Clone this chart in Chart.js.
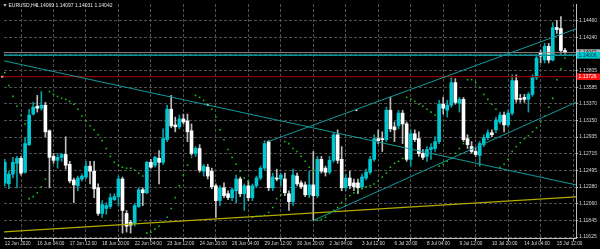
<!DOCTYPE html>
<html><head><meta charset="utf-8">
<script src="https://cdn.jsdelivr.net/npm/chart.js@4/dist/chart.umd.min.js"></script>
<style>html,body{margin:0;padding:0;background:#000;overflow:hidden}canvas{display:block}</style>
</head><body>
<canvas id="c" width="600" height="249"></canvas>
<script>
// ---- data (EURUSD, H4) ----
const timeLabels = ["12 Jun 2020","16 Jun 04:00","17 Jun 12:00","18 Jun 20:00","22 Jun 04:00","23 Jun 12:00","24 Jun 20:00","26 Jun 04:00","29 Jun 12:00","30 Jun 20:00","2 Jul 04:00","3 Jul 12:00","6 Jul 20:00","8 Jul 04:00","9 Jul 12:00","10 Jul 20:00","14 Jul 04:00","15 Jul 12:00"];
const priceTicks = [1.14460,1.14240,1.14020,1.13805,1.13585,1.13370,1.13150,1.12935,1.12715,1.12495,1.12280,1.12060,1.11845,1.11625];

const open = [1.12334,1.12321,1.12449,1.12591,1.12656,1.12475,1.12836,1.13236,1.13339,1.13313,
1.13352,1.13017,1.12682,1.12630,1.12669,1.12707,1.12578,1.12373,1.12296,1.12385,
1.12411,1.12553,1.12488,1.12270,1.11934,1.11999,1.12025,1.12115,1.12154,1.12385,
1.11934,1.11818,1.11805,1.12025,1.12244,1.12205,1.12604,1.12566,1.12656,1.12604,
1.12901,1.13300,1.13094,1.13069,1.13172,1.13146,1.13017,1.12720,1.12785,1.12488,
1.12540,1.12488,1.12296,1.12102,1.12270,1.12192,1.12141,1.12231,1.12385,1.12192,
1.12296,1.12141,1.12296,1.12398,1.12527,1.12875,1.12270,1.12398,1.12385,1.12385,
1.12192,1.12089,1.12424,1.12334,1.12308,1.12179,1.12308,1.12167,1.12643,1.12527,
1.12475,1.12630,1.12965,1.12643,1.12270,1.12398,1.12334,1.12334,1.12283,1.12398,
1.12475,1.12643,1.12914,1.12914,1.12901,1.13287,1.13069,1.13082,1.13249,1.13107,
1.12643,1.12978,1.12914,1.12720,1.12682,1.12772,1.12785,1.12875,1.13365,1.13287,
1.13352,1.13648,1.13377,1.13429,1.12914,1.12810,1.12746,1.12695,1.12836,1.12926,
1.12991,1.13030,1.13133,1.13223,1.13094,1.13249,1.13674,1.13442,1.13455,1.13429,
1.13494,1.13713,1.14035,1.13945,1.14125,1.13945,1.14370,1.14357,1.14069];
const high = [1.12643,1.12488,1.12669,1.12682,1.12682,1.12926,1.13300,1.13390,1.13481,1.13532,
1.13390,1.13030,1.12720,1.12720,1.12720,1.12939,1.12617,1.12398,1.12424,1.12449,
1.12617,1.12617,1.12617,1.12321,1.12102,1.12076,1.12192,1.12192,1.12424,1.12411,
1.11973,1.11844,1.12063,1.12270,1.12270,1.12617,1.12643,1.12682,1.12759,1.13043,
1.13352,1.13481,1.13197,1.13223,1.13236,1.13236,1.13107,1.12810,1.12836,1.12578,
1.12578,1.12527,1.12321,1.12296,1.12334,1.12231,1.12270,1.12437,1.12411,1.12321,
1.12360,1.12321,1.12424,1.12553,1.12888,1.12888,1.12462,1.12514,1.12462,1.12462,
1.12231,1.12514,1.12462,1.12360,1.12347,1.12488,1.12746,1.12682,1.12682,1.12553,
1.12682,1.12991,1.13030,1.12810,1.12449,1.12488,1.12385,1.12385,1.12449,1.12514,
1.12682,1.12965,1.13030,1.13004,1.13326,1.13455,1.13133,1.13287,1.13287,1.13133,
1.13030,1.13030,1.13004,1.12772,1.12810,1.12849,1.12939,1.13416,1.13455,1.13416,
1.13713,1.13700,1.13455,1.13455,1.12965,1.12875,1.12785,1.12875,1.12965,1.13030,
1.13030,1.13197,1.13262,1.13262,1.13287,1.13751,1.13751,1.13494,1.13494,1.13519,
1.13751,1.14009,1.14073,1.14164,1.14164,1.14434,1.14464,1.14515,1.14097];
const low = [1.12296,1.12257,1.12398,1.12270,1.12437,1.12462,1.12823,1.13223,1.13262,1.13287,
1.12939,1.12270,1.12591,1.12527,1.12617,1.12514,1.12334,1.12076,1.12231,1.12360,
1.12385,1.12321,1.12141,1.11909,1.11883,1.11922,1.11999,1.12102,1.12037,1.11676,
1.11689,1.11676,1.11767,1.12012,1.12037,1.12192,1.12527,1.12540,1.12321,1.12578,
1.12875,1.13056,1.13004,1.13043,1.13107,1.12875,1.12695,1.12682,1.12475,1.12424,
1.12385,1.12257,1.11883,1.12037,1.12141,1.12115,1.12102,1.12076,1.12154,1.11973,
1.12102,1.12102,1.12270,1.12373,1.12501,1.12231,1.12231,1.12360,1.12296,1.12167,
1.11973,1.12037,1.12296,1.12257,1.12154,1.12141,1.11844,1.12141,1.12462,1.12424,
1.12449,1.12604,1.12591,1.12231,1.12231,1.12257,1.12231,1.12192,1.12257,1.12373,
1.12449,1.12617,1.12849,1.12746,1.12875,1.13004,1.12875,1.13043,1.12849,1.12617,
1.12553,1.12875,1.12682,1.12643,1.12617,1.12643,1.12746,1.12849,1.13236,1.13197,
1.13326,1.13365,1.13262,1.12875,1.12785,1.12720,1.12682,1.12553,1.12810,1.12901,
1.12939,1.12991,1.13107,1.13004,1.13069,1.13223,1.13390,1.13390,1.13390,1.13262,
1.13468,1.13687,1.13906,1.13906,1.13906,1.13932,1.14292,1.14035,1.14031];
const close = [1.12604,1.12449,1.12604,1.12656,1.12462,1.12849,1.13223,1.13326,1.13313,1.13352,
1.13004,1.12669,1.12630,1.12669,1.12707,1.12566,1.12360,1.12308,1.12398,1.12424,
1.12553,1.12488,1.12257,1.11934,1.12050,1.12037,1.12141,1.12154,1.12385,1.11973,
1.11767,1.11780,1.12037,1.12244,1.12205,1.12604,1.12540,1.12669,1.12604,1.12914,
1.13300,1.13082,1.13069,1.13172,1.13133,1.13004,1.12720,1.12785,1.12501,1.12553,
1.12424,1.12283,1.12102,1.12270,1.12167,1.12141,1.12244,1.12385,1.12192,1.12296,
1.12141,1.12296,1.12398,1.12527,1.12849,1.12270,1.12411,1.12385,1.12437,1.12205,
1.12089,1.12437,1.12321,1.12283,1.12179,1.12308,1.12167,1.12643,1.12488,1.12475,
1.12630,1.12965,1.12630,1.12270,1.12398,1.12296,1.12283,1.12270,1.12411,1.12475,
1.12643,1.12914,1.12888,1.12901,1.13287,1.13043,1.13030,1.13249,1.13107,1.12643,
1.12978,1.12901,1.12720,1.12669,1.12772,1.12798,1.12875,1.13365,1.13313,1.13352,
1.13648,1.13390,1.13429,1.12901,1.12836,1.12746,1.12707,1.12849,1.12926,1.12991,
1.12965,1.13159,1.13223,1.13094,1.13249,1.13674,1.13429,1.13429,1.13429,1.13494,
1.13713,1.13970,1.13996,1.14125,1.13945,1.14370,1.14344,1.14069,1.14042];
// Parabolic SAR, one value per bar
const sar = [1.13777,1.13610,1.13468,1.13339,1.13223,1.13107,1.12128,1.12154,1.12205,1.12283,
1.12385,1.13532,1.13494,1.13468,1.13442,1.13429,1.13403,1.13365,1.13300,1.13210,
1.13146,1.13082,1.13030,1.12965,1.12888,1.12785,1.12682,1.12604,1.12566,1.12540,
1.12527,1.12527,1.12501,1.12462,1.12424,1.11676,1.11689,1.11728,1.11767,1.11818,
1.11883,1.11999,1.12141,1.12296,1.12437,1.12566,1.12669,1.13481,1.13455,1.13416,
1.13365,1.13300,1.13197,1.13030,1.12901,1.12772,1.12669,1.12578,1.12488,1.12398,
1.12360,1.11883,1.11896,1.11896,1.11909,1.11947,1.12012,1.12128,1.12179,1.12875,
1.12849,1.12785,1.12746,1.12682,1.12617,1.12540,1.12488,1.11844,1.11857,1.11883,
1.11934,1.11973,1.12012,1.12076,1.12128,1.12167,1.12205,1.12244,1.12257,1.12283,
1.12296,1.12321,1.12360,1.12411,1.12462,1.12540,1.12591,1.12617,1.12656,1.13455,
1.13429,1.13403,1.13365,1.13339,1.13300,1.13262,1.13223,1.12553,1.12578,1.12617,
1.12656,1.12720,1.12785,1.12849,1.13687,1.13687,1.13648,1.13584,1.13494,1.13429,
1.13365,1.13300,1.12540,1.12578,1.12643,1.12746,1.12810,1.12862,1.12914,1.12952,
1.13004,1.13056,1.13133,1.13210,1.13326,1.13442,1.13687,1.13829,1.13970];
// drawn objects: [bar index, price]
const trendDown   = [[-0.2, 1.13934], [140.72, 1.12308]];
const channelHigh = [[64.9, 1.12875], [140.72, 1.14353]];
const channelLow  = [[76.1, 1.11844], [140.72, 1.13390]];
const supportLine = [[-0.2, 1.11693], [140.72, 1.12151]];
const anchorPoints = [[50, 1.13356], [86.65, 1.13287], [108.1, 1.13722]];
const bidLevel = 1.14042;
const tealLevel = 1.14006;
const redLevel = 1.13726;
const symbolTitle = "EURUSD,H4";

// ---- chart ----
const N = open.length;
const idx = open.map((_, i) => i);
const isBull = i => close[i] >= open[i];
const pts = arr => arr.map(p => ({x: p[0], y: p[1]}));
const hLine = v => [{x: -0.2, y: v}, {x: 140.72, y: v}];
const lineDs = (data, color, w) => ({type: 'line', data, borderColor: color, borderWidth: w, pointRadius: 0, fill: false, order: 0, tension: 0});

const overlay = {
  id: 'overlay',
  beforeDraw(chart) {
    const c = chart.ctx;
    c.save(); c.fillStyle = '#000'; c.fillRect(0, 0, chart.width, chart.height); c.restore();
  },
  afterDraw(chart) {
    const c = chart.ctx, ys = chart.scales.y;
    c.save();
    c.font = '5px "Liberation Sans"';
    c.textBaseline = 'middle';
    // header
    c.fillStyle = '#e6e6e6';
    c.beginPath(); c.moveTo(3.3, 4.3); c.lineTo(6.7, 4.3); c.lineTo(5, 6.6); c.closePath(); c.fill();
    c.fillText(symbolTitle, 8.5, 5.6);
    c.fillText([open[N-1], high[N-1], low[N-1], close[N-1]].map(v => v.toFixed(5)).join(' '), 36, 5.6);
    // price boxes
    const box = (v, fill, txt) => {
      const y = ys.getPixelForValue(v);
      c.fillStyle = fill; c.fillRect(577, y - 3.3, 23, 6.6);
      c.fillStyle = txt; c.fillText(v.toFixed(5), 578.5, y + 0.3);
    };
    box(bidLevel, '#b4b4b4', '#000');
    box(tealLevel, '#00c8d0', '#003a3a');
    box(redLevel, '#ff1010', '#ffffff');
    // left marker of red line
    const yr = ys.getPixelForValue(redLevel);
    c.fillStyle = '#ff8080'; c.fillRect(1, yr - 1, 2.5, 2);
    c.restore();
  }
};

new Chart(document.getElementById('c'), {
  data: {
    datasets: [
      lineDs(pts(trendDown), '#129a9a', 1),
      lineDs(pts(channelHigh), '#129a9a', 1),
      lineDs(pts(channelLow), '#129a9a', 1),
      lineDs(pts(supportLine), '#b2aa00', 1.2),
      lineDs(hLine(bidLevel), '#8a8a8a', 1),
      lineDs(hLine(tealLevel), '#0a8f93', 1.5),
      lineDs(hLine(redLevel), '#8c0000', 1.3),
      {type: 'scatter', data: pts(anchorPoints), pointStyle: 'rect', pointRadius: 1.2, backgroundColor: '#ffffff', borderWidth: 0, order: 0},
      {type: 'scatter', data: sar.map((v, i) => ({x: i, y: v})), pointStyle: 'rect', pointRadius: 1.1, backgroundColor: '#1cc41c', borderWidth: 0, order: 1},
      {type: 'bar', data: idx.map(i => ({x: i, y: [open[i], close[i]]})),
        backgroundColor: idx.map(i => isBull(i) ? '#00c8d2' : '#ffffff'),
        barThickness: 3, grouped: false, minBarLength: 1, borderWidth: 0, order: 2},
      {type: 'bar', data: idx.map(i => ({x: i, y: [low[i], high[i]]})),
        backgroundColor: idx.map(i => isBull(i) ? '#0a9ea3' : '#bdbdbd'),
        barThickness: 1, grouped: false, borderWidth: 0, order: 3}
    ]
  },
  options: {
    responsive: false, animation: false, devicePixelRatio: 1,
    layout: {padding: 0},
    events: [],
    plugins: {legend: {display: false}, tooltip: {enabled: false}},
    scales: {
      x: {
        type: 'linear', min: -0.196, max: 140.72, offset: false,
        afterBuildTicks: s => { s.ticks = timeLabels.map((_, k) => ({value: k * 8})); },
        afterFit: s => { s.height = 11; },
        ticks: {autoSkip: false, maxRotation: 0, minRotation: 0, align: 'start', padding: 0,
          color: '#d6d6d6', font: {family: 'Liberation Sans', size: 4.7},
          callback: v => timeLabels[Math.round(v / 8)] || ''},
        grid: {color: '#505050', lineWidth: 1, tickLength: 3, tickColor: '#bdbdbd'},
        border: {display: true, color: '#bdbdbd', dash: [3, 2]}
      },
      y: {
        type: 'linear', position: 'right', min: 1.11612, max: 1.14679,
        afterBuildTicks: s => { s.ticks = priceTicks.map(v => ({value: v})); },
        afterFit: s => { s.width = 24; },
        ticks: {autoSkip: false, padding: 1, color: '#d6d6d6', font: {family: 'Liberation Sans', size: 5},
          callback: v => Number(v).toFixed(5)},
        grid: {color: '#505050', lineWidth: 1, tickLength: 2, tickColor: '#bdbdbd'},
        border: {display: true, color: '#bdbdbd', dash: [3, 2]}
      }
    }
  },
  plugins: [overlay]
});
</script>
</body></html>
